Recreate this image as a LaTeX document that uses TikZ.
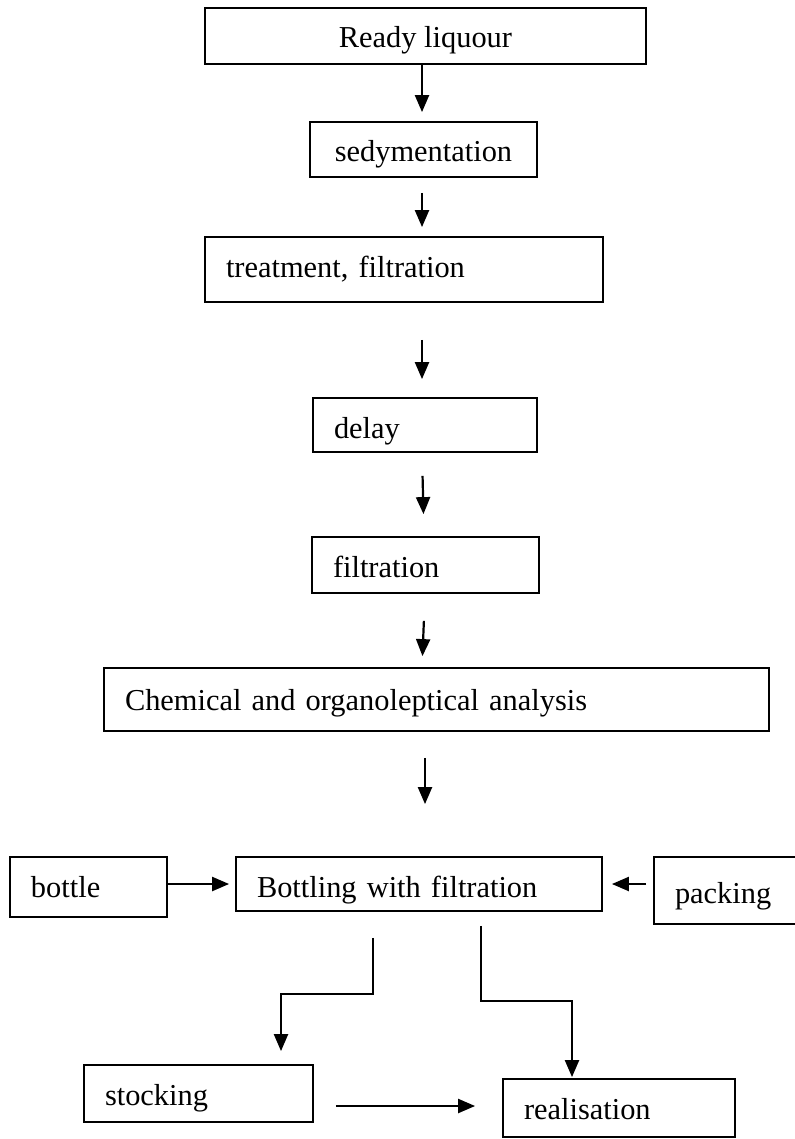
\documentclass[tikz,border=0pt]{standalone}
\usepackage{fontspec}
\setmainfont{Liberation Serif}
\usetikzlibrary{arrows.meta}
\begin{document}
\begin{tikzpicture}[x=0.5pt,y=-0.5pt,
  box/.style={draw, line width=0.9pt, inner xsep=0pt, inner ysep=0pt,
    font=\fontsize{15.2}{18}\selectfont, text depth=0pt},
  lbox/.style={box, inner xsep=10.5pt, align=left},
  arr/.style={line width=1.1pt, -{Triangle[length=8.5pt,width=7pt]}}]
\clip (0,0) rectangle (795,1139);
\fill[white] (0,0) rectangle (795,1139);
% boxes
\node[box, minimum width=220.5pt, minimum height=28pt, text height=12pt] (ready) at (425.5,36) {Ready liquour};
\node[box, minimum width=113.5pt, minimum height=27.5pt, text height=12.5pt] (sed) at (423.5,149.5) {sedymentation};
\node[lbox, text width=178pt, minimum height=32.5pt, text height=8.5pt] (treat) at (404,269.5) {treatment, filtration};
\node[lbox, text width=91pt, minimum height=27pt, text height=13pt] (delay) at (425,425) {delay};
\node[lbox, text width=92.5pt, minimum height=28pt, text height=12pt] (filt) at (425.5,565) {filtration};
\node[lbox, text width=311.5pt, minimum height=31.5pt, text height=10.5pt] (chem) at (436.5,699.5) {Chemical and organoleptical analysis};
\node[lbox, text width=57.5pt, minimum height=30pt, text height=10pt] (bottle) at (88.5,887) {bottle};
\node[lbox, text width=162pt, minimum height=27pt, text height=13pt] (bottling) at (419,884) {Bottling with filtration};
\node[lbox, text width=59.5pt, minimum height=33.5pt, text height=12.5pt] (packing) at (734.5,890.5) {packing};
\node[lbox, text width=93.5pt, minimum height=28.5pt, text height=11.5pt] (stock) at (198.5,1093.5) {stocking};
\node[lbox, text width=95pt, minimum height=29pt, text height=11.5pt] (real) at (619,1108) {realisation};
% helper coordinates
\coordinate (col) at (422,0);
\coordinate (colb) at (424,0);
\coordinate (colc) at (425,0);
\coordinate (b1) at (373,994);
\coordinate (b2) at (281,994);
\coordinate (c1) at (481,1001);
\coordinate (c2) at (572,1001);
\coordinate (sr) at (0,1106);
% connectors
\draw[arr, shorten >=4.5pt] (ready.south -| col) -- (sed.north -| col);
\draw[arr, shorten <=7.5pt, shorten >=4.5pt] (sed.south -| col) -- (treat.north -| col);
\draw[arr, shorten <=18.5pt, shorten >=9pt] (treat.south -| col) -- (delay.north -| col);
\draw[arr, shorten <=11.5pt, shorten >=11pt] (delay.south -| col) -- (filt.north -| colb);
\draw[arr, shorten <=13.5pt, shorten >=5.5pt] (filt.south -| colc) -- (chem.north -| col);
\draw[arr, shorten <=13pt, shorten >=26pt] (chem.south -| colc) -- (bottling.north -| colc);
\draw[arr, shorten >=3pt] (bottle.east |- bottling.west) -- (bottling.west);
\draw[arr, shorten <=3.5pt, shorten >=4.5pt] (packing.west |- bottling.east) -- (bottling.east);
\draw[arr, shorten <=13pt, shorten >=6.5pt] (bottling.south -| b1) -- (b1) -- (b2) -- (stock.north -| b2);
\draw[arr, shorten <=7pt, shorten >=0.5pt] (bottling.south -| c1) -- (c1) -- (c2) -- (real.north -| c2);
\draw[arr, shorten <=11pt, shorten >=13.5pt] (stock.east |- sr) -- (real.west |- sr);
\end{tikzpicture}
\end{document}
